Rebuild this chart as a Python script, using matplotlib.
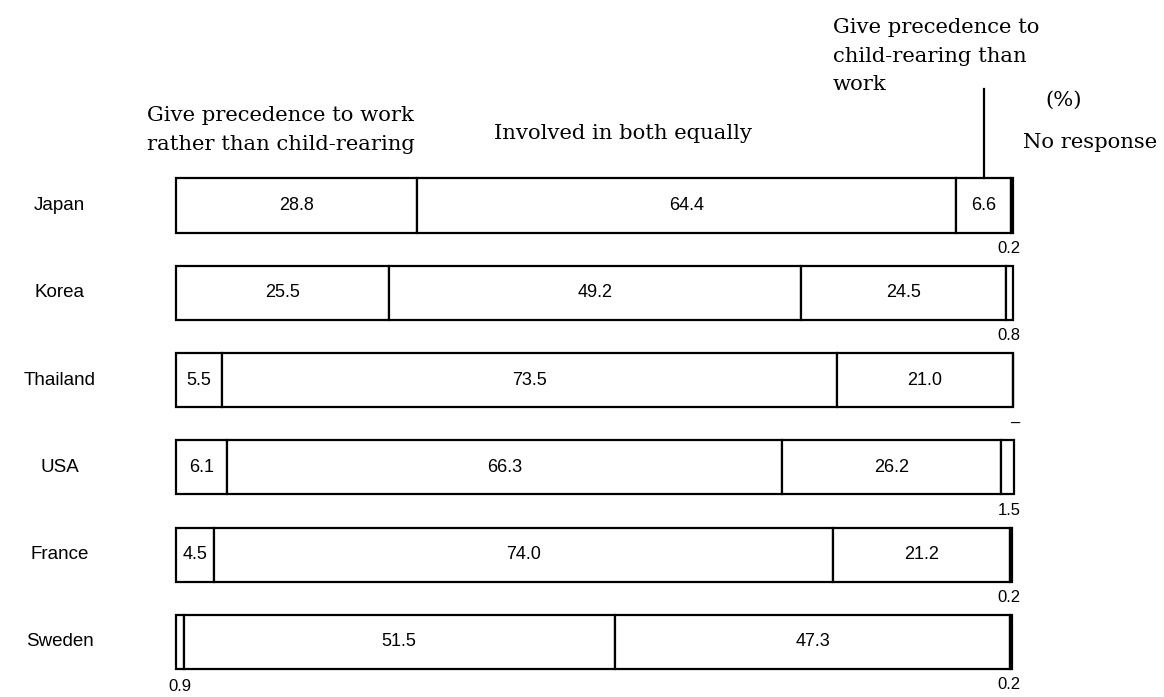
import numpy as np
import matplotlib
matplotlib.use("Agg")
from matplotlib import pyplot as plt

countries = ["Japan", "Korea", "Thailand", "USA", "France", "Sweden"]
work_first = [28.8, 25.5, 5.5, 6.1, 4.5, 0.9]
both_equal = [64.4, 49.2, 73.5, 66.3, 74.0, 51.5]
child_first = [6.6, 24.5, 21.0, 26.2, 21.2, 47.3]
no_response = [0.2, 0.8, 0.0, 1.5, 0.2, 0.2]
no_response_labels = ["0.2", "0.8", "–", "1.5", "0.2", "0.2"]

SERIF = ["DejaVu Serif"]
SANS = ["Liberation Sans", "DejaVu Sans"]

fig = plt.figure(figsize=(11.64, 6.97), dpi=100)
ax = fig.add_axes([0, 0, 1, 1])

# 100% spans pixels 176..1013, rows are ~87 px apart
px = 8.37
ax.set_xlim(-176 / px, 100 + (1164 - 1013) / px)
ax.set_ylim((697 - 205.5) / 87.3, -205.5 / 87.3)
ax.axis("off")

y = np.arange(len(countries))
h = 0.62
segments = [work_first, both_equal, child_first, no_response]
left = np.zeros(len(countries))
for seg in segments:
    vals = np.array(seg)
    ax.barh(y, vals, left=left, height=h, color="white",
            edgecolor="black", linewidth=1.6)
    left += vals

# values inside the three main segments
left = np.zeros(len(countries))
for k, seg in enumerate(segments[:3]):
    for i, v in enumerate(seg):
        if v >= 2:
            ax.text(left[i] + v / 2, y[i], f"{v:.1f}", ha="center",
                    va="center", fontsize=13, family=SANS)
    left += np.array(seg)

# small values written under the bars
for i, lab in enumerate(no_response_labels):
    ax.text(100.9, y[i] + h / 2 + 0.18, lab, ha="right", va="center",
            fontsize=12, family=SANS)
ax.text(work_first[5] / 2, y[5] + h / 2 + 0.2, f"{work_first[5]:.1f}",
        ha="center", va="center", fontsize=12, family=SANS)

for i, c in enumerate(countries):
    ax.text(-13.9, y[i], c, ha="center", va="center", fontsize=13.5,
            family=SANS)

# header captions
ax.text(-3.46, -0.865, "Give precedence to work\nrather than child-rearing",
        ha="left", va="center", fontsize=15.2, family=SERIF,
        linespacing=1.72)
ax.text(53.4, -0.83, "Involved in both equally", ha="center", va="center",
        fontsize=15.2, family=SERIF)
ax.text(78.5, -1.71, "Give precedence to\nchild-rearing than\nwork",
        ha="left", va="center", fontsize=15.2, family=SERIF,
        linespacing=1.62)
lx = work_first[0] + both_equal[0] + child_first[0] / 2
ax.plot([lx, lx], [-1.34, -h / 2], color="black", linewidth=1.6)
ax.text(106, -1.21, "(%)", ha="center", va="center", fontsize=15.2,
        family=SERIF)
ax.text(101.2, -0.716, "No response", ha="left", va="center",
        fontsize=15.2, family=SERIF)

fig.savefig("out.png", dpi=100)
